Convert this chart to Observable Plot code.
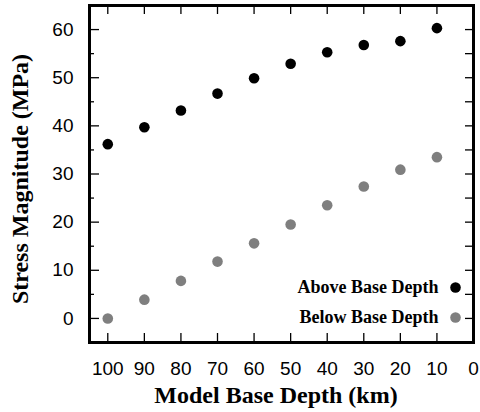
<!DOCTYPE html>
<html>
<head>
<meta charset="utf-8">
<script src="https://cdn.jsdelivr.net/npm/d3@7"></script>
<script src="https://cdn.jsdelivr.net/npm/@observablehq/plot@0.6"></script>
<style>
  html, body { margin: 0; padding: 0; background: #fff; }
  #chart { position: relative; width: 480px; height: 412px; }
  #chart > svg { position: absolute; left: 0; top: 0; }
</style>
</head>
<body>
<div id="chart"></div>
<script>
// Data
const depths = [100, 90, 80, 70, 60, 50, 40, 30, 20, 10];
const aboveValues = [36.2, 39.7, 43.2, 46.7, 49.9, 52.9, 55.3, 56.8, 57.6, 60.3];
const belowValues = [0.0, 3.9, 7.8, 11.8, 15.6, 19.5, 23.5, 27.4, 30.9, 33.5];
const seriesNames = ["Above Base Depth", "Below Base Depth"];
const seriesColors = ["#000000", "#7f7f7f"];
const xTickLabels = [100, 90, 80, 70, 60, 50, 40, 30, 20, 10, 0];
const yTickLabels = [0, 10, 20, 30, 40, 50, 60];
const yMinorTicks = [5, 15, 25, 35, 45, 55];
const yRightTicks = [0, 5, 10, 15, 20, 25, 30, 35, 40, 45, 50, 55, 60];
const xLabel = "Model Base Depth (km)";
const yLabel = "Stress Magnitude (MPa)";

const rows = [];
depths.forEach((d, i) => {
  rows.push({depth: d, value: aboveValues[i], series: seriesNames[0]});
  rows.push({depth: d, value: belowValues[i], series: seriesNames[1]});
});

const sansFont = "Liberation Sans, Arial, Helvetica, sans-serif";
const serifFont = "Liberation Serif, Times New Roman, Times, serif";

const W = 480, H = 412, mL = 89, mR = 7, mT = 5, mB = 70;
const fw = W - mL - mR, fh = H - mT - mB;
const legendDy = [-55, -25];

const layout = {width: W, height: H, marginLeft: mL, marginRight: mR, marginTop: mT, marginBottom: mB};
const xScale = {domain: [105, 0], axis: null};
const yScale = {domain: [-5, 65], axis: null};

// main layer: points, labels, legend
const chart = Plot.plot({
  ...layout,
  style: {background: "#fff", color: "#000"},
  x: xScale,
  y: yScale,
  color: {domain: seriesNames, range: seriesColors},
  marks: [
    Plot.dot(rows, {x: "depth", y: "value", fill: "series", r: 5.3}),
    // tick labels
    Plot.text(xTickLabels, {x: d => d, text: d => String(d), frameAnchor: "bottom", dy: 26, lineAnchor: "middle", fontSize: 19, fontFamily: sansFont, fill: "#000"}),
    Plot.text(yTickLabels, {y: d => d, text: d => String(d), frameAnchor: "left", dx: -16, textAnchor: "end", lineAnchor: "middle", fontSize: 19, fontFamily: sansFont, fill: "#000"}),
    // legend
    ...seriesNames.map((name, i) => Plot.text([name], {
      text: d => d, frameAnchor: "bottom-right", dx: -35, dy: legendDy[i],
      textAnchor: "end", lineAnchor: "middle", fontFamily: serifFont, fontWeight: "bold", fontSize: 18, fill: "#000"
    })),
    ...seriesNames.map((name, i) => Plot.dot([name], {
      frameAnchor: "bottom-right", dx: -18, dy: legendDy[i], r: 5.3, fill: seriesColors[i]
    })),
    // axis titles
    Plot.text([xLabel], {text: d => d, frameAnchor: "bottom", dx: -5.5, dy: 53, textAnchor: "middle", lineAnchor: "middle", fontFamily: serifFont, fontWeight: "bold", fontSize: 24, fill: "#000"}),
    Plot.text([yLabel], {text: d => d, frameAnchor: "left", dx: -69, dy: 5, rotate: -90, textAnchor: "middle", lineAnchor: "middle", fontFamily: serifFont, fontWeight: "bold", fontSize: 24, fill: "#000"})
  ]
});

// overlay layer: frame and inward ticks, same scales
const ticks = Plot.plot({
  ...layout,
  style: {background: "transparent", color: "#000"},
  x: xScale,
  y: yScale,
  marks: [
    Plot.tickX(depths, {x: d => d, insetTop: fh - 9, stroke: "#000", strokeWidth: 1.3}),
    Plot.tickX(depths, {x: d => d, insetBottom: fh - 9, stroke: "#000", strokeWidth: 1.3}),
    Plot.tickY(yTickLabels, {y: d => d, insetRight: fw - 10, stroke: "#000", strokeWidth: 1.3}),
    Plot.tickY(yMinorTicks, {y: d => d, insetRight: fw - 5, stroke: "#000", strokeWidth: 1.3}),
    Plot.tickY(yRightTicks, {y: d => d, insetLeft: fw - 8, stroke: "#000", strokeWidth: 1.3}),
    Plot.frame({stroke: "#000", strokeWidth: 3})
  ]
});

const host = document.getElementById("chart");
host.appendChild(chart);
host.appendChild(ticks);
</script>
</body>
</html>
